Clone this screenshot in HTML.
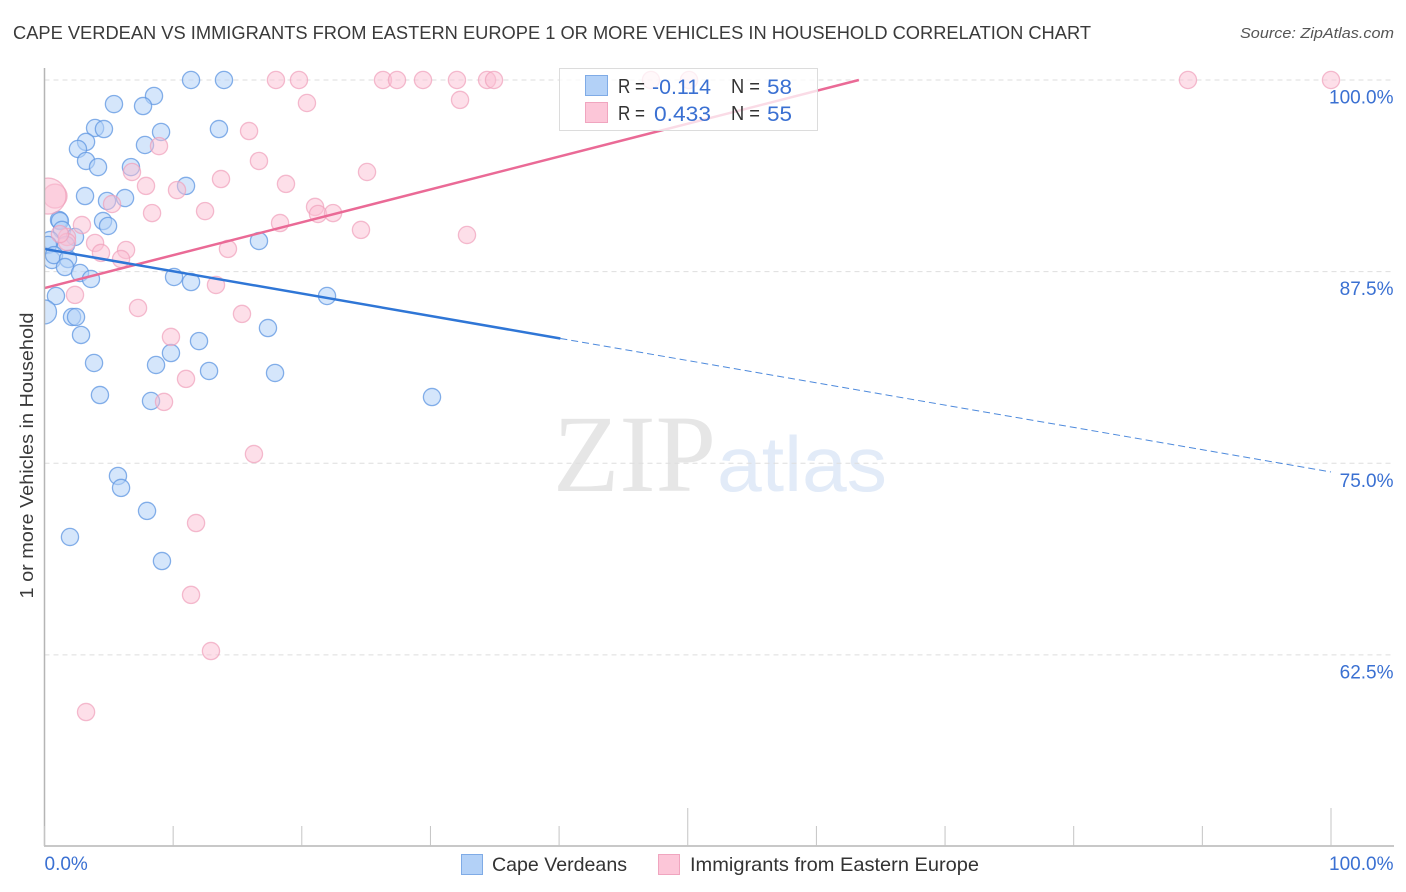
<!DOCTYPE html>
<html lang="en">
<head>
<meta charset="utf-8">
<title>Cape Verdean vs Immigrants from Eastern Europe correlation chart</title>
<style>
html,body{margin:0;padding:0;background:#fff;width:1406px;height:892px;overflow:hidden}
svg{display:block;font-family:"Liberation Sans",Arial,sans-serif}
</style>
</head>
<body>
<svg id="chart" xmlns="http://www.w3.org/2000/svg" width="1406" height="892" viewBox="0 0 1406 892">
  <text x="13" y="39" font-size="18.5" fill="#3a3a3a" textLength="1078" lengthAdjust="spacingAndGlyphs">CAPE VERDEAN VS IMMIGRANTS FROM EASTERN EUROPE 1 OR MORE VEHICLES IN HOUSEHOLD CORRELATION CHART</text>
  <text x="1394" y="38" font-size="15" font-style="italic" fill="#555" text-anchor="end" textLength="154" lengthAdjust="spacingAndGlyphs">Source: ZipAtlas.com</text>
  <g>
    <text x="553" y="491" font-family="'Liberation Serif',serif" font-size="110" fill="#e6e6e6" textLength="163" lengthAdjust="spacingAndGlyphs">ZIP</text>
    <text x="717" y="491" font-family="'Liberation Sans',sans-serif" font-size="78" fill="#e2ebf8" textLength="170" lengthAdjust="spacingAndGlyphs">atlas</text>
  </g>
  <g id="grid"></g>
  <g id="points"></g>
  <g id="lines"></g>
  <rect x="0" y="60" width="44" height="280" fill="#fff"></rect>
  <g id="axes"></g>
  <text x="27" y="455.5" font-size="18.5" fill="#3a3a3a" text-anchor="middle" transform="rotate(-90 27 455.5)" textLength="286" lengthAdjust="spacingAndGlyphs" dy="6">1 or more Vehicles in Household</text>
  <g id="stats-legend">
    <rect x="559.5" y="68.5" width="258" height="62" fill="#fff" fill-opacity="0.76" stroke="#dcdcdc"></rect>
    <rect x="585.5" y="75.5" width="22" height="20" fill="#b3d1f7" stroke="#7fabe6"></rect>
    <rect x="585.5" y="102.5" width="22" height="20" fill="#fcc6d8" stroke="#f0a5bf"></rect>
    <g font-size="20" fill="#333">
      <text x="618" y="93" textLength="27" lengthAdjust="spacingAndGlyphs">R =</text>
      <text x="731" y="93" textLength="29" lengthAdjust="spacingAndGlyphs">N =</text>
      <text x="618" y="120" textLength="27" lengthAdjust="spacingAndGlyphs">R =</text>
      <text x="731" y="120" textLength="29" lengthAdjust="spacingAndGlyphs">N =</text>
    </g>
    <g font-size="21" fill="#3a70d2">
      <text x="652" y="94" textLength="59" lengthAdjust="spacingAndGlyphs">-0.114</text>
      <text x="767" y="94" textLength="25" lengthAdjust="spacingAndGlyphs">58</text>
      <text x="654" y="121" textLength="57" lengthAdjust="spacingAndGlyphs">0.433</text>
      <text x="767" y="121" textLength="25" lengthAdjust="spacingAndGlyphs">55</text>
    </g>
  </g>
  <g id="bottom-legend">
    <rect x="461.5" y="854.5" width="21" height="20" fill="#b3d1f7" stroke="#7fabe6"></rect>
    <text x="492" y="871" font-size="19.5" fill="#333" textLength="135" lengthAdjust="spacingAndGlyphs">Cape Verdeans</text>
    <rect x="658.5" y="854.5" width="21" height="20" fill="#fcc6d8" stroke="#f0a5bf"></rect>
    <text x="690" y="871" font-size="19.5" fill="#333" textLength="289" lengthAdjust="spacingAndGlyphs">Immigrants from Eastern Europe</text>
  </g>
</svg>
<script>
var yTicks = [100, 87.5, 75, 62.5];
var yTickLabels = ["100.0%", "87.5%", "75.0%", "62.5%"];
var xTickValues = [0, 10, 20, 30, 40, 50, 60, 70, 80, 90, 100];
var xEndLabels = ["0.0%", "100.0%"];

var blueX = [11.39,13.95,8.51,7.66,5.40,9.06,13.56,3.93,4.62,7.81,3.23,2.60,3.23,4.16,6.72,11.00,3.15,6.26,4.86,1.13,1.20,4.55,4.94,1.36,2.37,16.67,1.67,0.43,0.27,0.58,0.74,1.83,1.59,2.76,3.61,10.07,11.39,21.96,0.89,0,2.14,2.45,2.84,17.37,12.01,9.83,3.85,8.67,12.79,17.92,4.31,8.28,30.12,5.71,5.95,7.97,1.98,9.13];
var blueY = [100,100,98.96,98.30,98.43,96.61,96.80,96.87,96.80,95.76,95.96,95.50,94.72,94.32,94.32,93.09,92.43,92.30,92.11,90.87,90.80,90.80,90.48,90.22,89.76,89.50,89.24,89.56,89.24,88.26,88.58,88.32,87.80,87.41,87.02,87.15,86.82,85.91,85.91,84.87,84.54,84.54,83.37,83.82,82.97,82.19,81.54,81.41,81.02,80.89,79.45,79.06,79.32,74.17,73.39,71.89,70.19,68.62];
var blueLargeIndex = [39];
var pinkX = [17.99,19.78,26.31,27.40,29.42,32.06,34.40,34.94,47.14,50.10,88.88,100,20.40,32.30,15.90,8.90,16.67,25.07,6.80,13.72,18.77,7.89,10.30,0.82,0.27,5.25,8.36,12.48,21.03,21.26,22.43,18.31,2.91,24.60,32.84,1.75,1.75,3.93,6.34,14.26,4.39,5.95,13.33,2.37,7.27,15.35,9.83,11.00,9.29,16.28,11.78,11.39,12.94,3.23,1.20];
var pinkY = [100,100,100,100,100,100,100,100,100,100,100,100,98.50,98.70,96.67,95.69,94.72,94.00,94.00,93.54,93.22,93.09,92.82,92.43,92.43,91.91,91.32,91.45,91.72,91.26,91.32,90.67,90.54,90.22,89.89,89.76,89.43,89.37,88.91,88.98,88.72,88.32,86.63,85.98,85.13,84.74,83.24,80.50,79.00,75.60,71.10,66.41,62.75,58.77,89.95];
var pinkMediumIndex = [23];
var pinkLargeIndex = [24];

var blueTrendStart = [0, 88.98];
var blueTrendSolidEnd = [40.1, 83.14];
var blueTrendEnd = [100, 74.43];
var pinkTrendStart = [0, 86.43];
var pinkTrendEnd = [63.3, 100];

var NS = "http://www.w3.org/2000/svg";
function xScale(v){ return 44.5 + v * 12.865; }
function yScale(v){ return 80 + (100 - v) * 15.33; }
function make(tag, attrs, parent){
  var el = document.createElementNS(NS, tag);
  for (var k in attrs) { el.setAttribute(k, attrs[k]); }
  parent.appendChild(el);
  return el;
}
var grid = document.getElementById("grid");
var axes = document.getElementById("axes");
var points = document.getElementById("points");
var lines = document.getElementById("lines");

yTicks.forEach(function(t, i){
  var g = make("line", {x1:44.5, x2:1394, y1:yScale(t), y2:yScale(t), stroke:"#dedede", "stroke-width":1, "stroke-dasharray":"5 4"}, grid);
  
  
  var lab = make("text", {x:1393.5, y:yScale(t) + 23.5, "text-anchor":"end", "font-size":19, fill:"#3a70d2"}, axes);
  lab.textContent = yTickLabels[i];
  
  
});

var yAxis = make("line", {x1:44.5, x2:44.5, y1:68, y2:846, stroke:"#b5b5b5", "stroke-width":1.5}, axes);


var xAxis = make("line", {x1:44, x2:1394, y1:846, y2:846, stroke:"#b5b5b5", "stroke-width":1.5}, axes);



xTickValues.forEach(function(v){
  var tall = (v === 50 || v === 100);
  var t = make("line", {x1:xScale(v), x2:xScale(v), y1:tall ? 808 : 826, y2:846, stroke:"#c4c4c4", "stroke-width":1}, axes);
  
  
});

var x0Label = make("text", {x:xScale(xTickValues[0]), y:870, "font-size":19, fill:"#3a70d2"}, axes);
x0Label.textContent = xEndLabels[0];


var x100Label = make("text", {x:1393.5, y:870, "text-anchor":"end", "font-size":19, fill:"#3a70d2"}, axes);
x100Label.textContent = xEndLabels[1];



blueX.forEach(function(v, i){
  var r = blueLargeIndex.indexOf(i) >= 0 ? 12 : 8.6;
  var c = make("circle", {cx:xScale(v), cy:yScale(blueY[i]), r:r, fill:"#b3d1f7", "fill-opacity":0.55, stroke:"#5d96e2", "stroke-opacity":0.75, "stroke-width":1.3}, points);
  
  
});
pinkX.forEach(function(v, i){
  var r = pinkLargeIndex.indexOf(i) >= 0 ? 18 : (pinkMediumIndex.indexOf(i) >= 0 ? 12 : 8.6);
  var c = make("circle", {cx:xScale(v), cy:yScale(pinkY[i]), r:r, fill:"#fcc0d4", "fill-opacity":0.5, stroke:"#f0a0bb", "stroke-opacity":0.7, "stroke-width":1.3}, points);
  
  
});

var blueDash = make("line", {x1:xScale(blueTrendSolidEnd[0]), y1:yScale(blueTrendSolidEnd[1]), x2:xScale(blueTrendEnd[0]), y2:yScale(blueTrendEnd[1]), stroke:"#2f76d6", "stroke-width":1, "stroke-dasharray":"7 4", "stroke-opacity":0.85}, lines);


var pinkLine = make("line", {x1:xScale(pinkTrendStart[0]), y1:yScale(pinkTrendStart[1]), x2:xScale(pinkTrendEnd[0]), y2:yScale(pinkTrendEnd[1]), stroke:"#ea6a96", "stroke-width":2.5}, lines);


var blueLine = make("line", {x1:xScale(blueTrendStart[0]), y1:yScale(blueTrendStart[1]), x2:xScale(blueTrendSolidEnd[0]), y2:yScale(blueTrendSolidEnd[1]), stroke:"#2f76d6", "stroke-width":2.5}, lines);


</script>
</body>
</html>
